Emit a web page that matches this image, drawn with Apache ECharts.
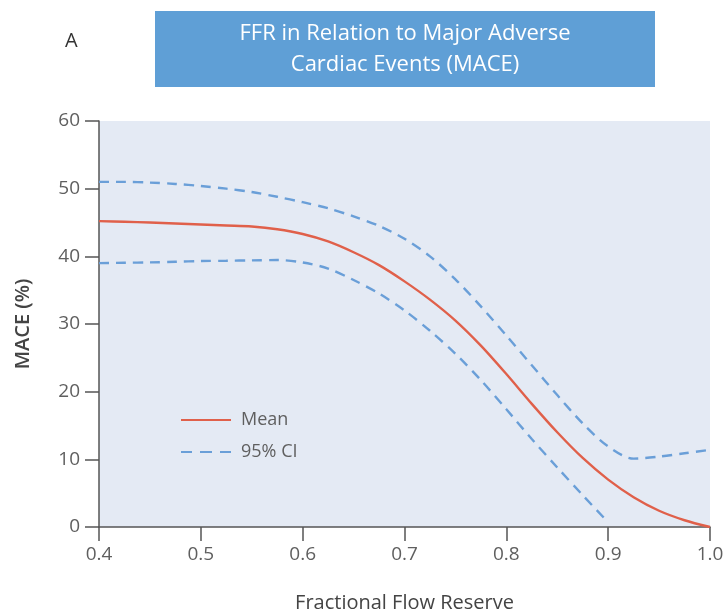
<!DOCTYPE html>
<html>
<head>
<meta charset="utf-8">
<script src="https://cdn.jsdelivr.net/npm/echarts@6/dist/echarts.min.js"></script>
<style>
  html, body { margin: 0; padding: 0; background: #ffffff; }
  #chart { width: 727px; height: 611px; }
</style>
</head>
<body>
<div id="chart"></div>
<script>
// Fractional flow reserve vs. MACE rate: mean curve with 95% confidence band
const ffr = [0.4, 0.425, 0.45, 0.475, 0.5, 0.525, 0.55, 0.575, 0.6, 0.625, 0.65, 0.675, 0.7,
             0.725, 0.75, 0.775, 0.8, 0.825, 0.85, 0.875, 0.9, 0.925, 0.95, 0.975, 1.0];
const maceMean = [45.2, 45.1, 45.0, 44.85, 44.7, 44.55, 44.4, 44.0, 43.3, 42.2, 40.6, 38.7, 36.3,
                  33.6, 30.5, 26.8, 22.6, 18.2, 14.0, 10.2, 7.0, 4.4, 2.4, 1.0, 0.0];
const maceUpper = [51.0, 51.0, 50.9, 50.7, 50.4, 50.0, 49.5, 48.8, 48.0, 47.1, 45.9, 44.5, 42.6,
                   40.0, 36.6, 32.6, 28.3, 23.9, 19.5, 15.3, 11.9, 10.1, 10.4, 10.9, 11.4];
// lower bound ends at FFR 0.9
const maceLower = [39.0, 39.05, 39.1, 39.2, 39.3, 39.35, 39.4, 39.45, 39.1, 38.2, 36.5, 34.5, 32.0,
                   29.0, 25.6, 21.7, 17.4, 13.0, 8.8, 4.7, 0.7];

const xTicks = { min: 0.4, max: 1.0, step: 0.1 };
const yTicks = { min: 0, max: 60, step: 10 };

const zip = (xs, ys) => ys.map((y, i) => [xs[i], y]);

const meanColor = '#e0604a';
const ciColor = '#6a9fd8';
const textColor = '#5f5f5f';
const axisColor = '#555555';
const font = '"Open Sans", "Noto Sans", sans-serif';

const chart = echarts.init(document.getElementById('chart'));
chart.setOption({
  animation: false,
  textStyle: { fontFamily: font },
  grid: {
    left: 99, right: 17, top: 121, bottom: 84,
    outerBoundsMode: 'none', containLabel: false,
    show: true, backgroundColor: '#e4eaf4', borderWidth: 0
  },
  graphic: [
    {
      type: 'rect', left: 155, top: 11,
      shape: { width: 500, height: 76 },
      style: { fill: '#5f9fd6' }, z: 1
    },
    {
      type: 'text', x: 405, y: 18, z: 2,
      style: {
        text: 'FFR in Relation to Major Adverse\nCardiac Events (MACE)',
        fill: '#ffffff', font: '22px ' + font, align: 'center', lineHeight: 31
      }
    },
    {
      type: 'text', x: 65, y: 31, z: 2,
      style: { text: 'A', fill: '#333333', font: '20px ' + font }
    }
  ],
  legend: {
    orient: 'vertical', left: 176, top: 406,
    itemWidth: 50, itemHeight: 10, itemGap: 14,
    textStyle: { color: textColor, fontSize: 18, fontFamily: font, padding: [0, 0, 0, 5] },
    data: [
      { name: 'Mean', icon: 'path://M0,4 L50,4 L50,6 L0,6 Z', itemStyle: { color: meanColor } },
      { name: '95% CI', icon: 'path://M0,4h11v2h-11z M19,4h12v2h-12z M39,4h11v2h-11z', itemStyle: { color: ciColor } }
    ]
  },
  xAxis: {
    type: 'value',
    min: xTicks.min, max: xTicks.max, interval: xTicks.step,
    name: 'Fractional Flow Reserve', nameLocation: 'middle', nameGap: 66,
    nameTextStyle: { color: '#444444', fontSize: 20, fontWeight: 500, fontFamily: font },
    axisLine: { show: true, lineStyle: { color: axisColor, width: 1.5 } },
    axisTick: { show: true, length: 14, lineStyle: { color: axisColor, width: 1.5 } },
    axisLabel: { color: textColor, fontSize: 19, margin: 18, formatter: v => v.toFixed(1) },
    splitLine: { show: false }
  },
  yAxis: {
    type: 'value',
    min: yTicks.min, max: yTicks.max, interval: yTicks.step,
    name: 'MACE (%)', nameLocation: 'middle', nameGap: 66,
    nameTextStyle: { color: '#444444', fontSize: 20, fontWeight: 600, fontFamily: font },
    axisLine: { show: true, lineStyle: { color: axisColor, width: 1.5 } },
    axisTick: { show: true, length: 14, lineStyle: { color: axisColor, width: 1.5 } },
    axisLabel: { color: textColor, fontSize: 19, margin: 19 },
    splitLine: { show: false }
  },
  series: [
    {
      name: 'Mean', type: 'line', data: zip(ffr, maceMean),
      smooth: 0.3, showSymbol: false, symbol: 'none',
      lineStyle: { color: meanColor, width: 2.4 }, itemStyle: { color: meanColor }, z: 3
    },
    {
      name: '95% CI', type: 'line', data: zip(ffr, maceUpper),
      smooth: 0.3, showSymbol: false, symbol: 'none',
      lineStyle: { color: ciColor, width: 2.4, type: [10, 7] }, itemStyle: { color: ciColor }
    },
    {
      name: '95% CI', type: 'line', data: zip(ffr, maceLower),
      smooth: 0.3, showSymbol: false, symbol: 'none',
      lineStyle: { color: ciColor, width: 2.4, type: [10, 7] }, itemStyle: { color: ciColor }
    }
  ]
});
</script>
</body>
</html>
